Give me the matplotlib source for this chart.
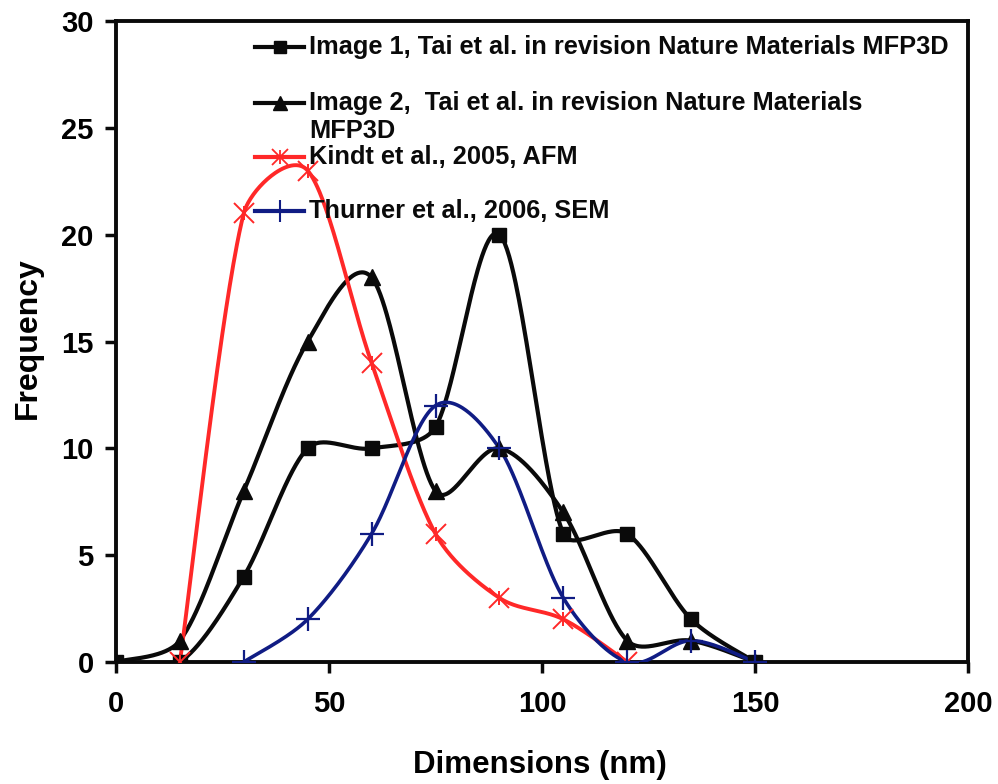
import numpy as np
import matplotlib
matplotlib.use("Agg")
import matplotlib.pyplot as plt

# --- data -------------------------------------------------------------
dims_img1 = [0, 15, 30, 45, 60, 75, 90, 105, 120, 135, 150]
freq_img1 = [0, 0, 4, 10, 10, 11, 20, 6, 6, 2, 0]

dims_img2 = [0, 15, 30, 45, 60, 75, 90, 105, 120, 135, 150]
freq_img2 = [0, 1, 8, 15, 18, 8, 10, 7, 1, 1, 0]

dims_kindt = [15, 30, 45, 60, 75, 90, 105, 120]
freq_kindt = [0, 21, 23, 14, 6, 3, 2, 0]

dims_thurner = [30, 45, 60, 75, 90, 105, 120, 135, 150]
freq_thurner = [0, 2, 6, 12, 10, 3, 0, 1, 0]

labels = [
    "Image 1, Tai et al. in revision Nature Materials MFP3D",
    "Image 2,  Tai et al. in revision Nature Materials",
    "Kindt et al., 2005, AFM",
    "Thurner et al., 2006, SEM",
]
label2_cont = "MFP3D"
x_ticks = [0, 50, 100, 150, 200]
y_ticks = [0, 5, 10, 15, 20, 25, 30]

RED = "#ff2828"
BLUE = "#101c84"
BLACK = "#0a0a0a"
FONT = ["Liberation Sans", "DejaVu Sans"]


def smooth(ax, x, y, n=60):
    """Bezier smoothing through every point, computed in screen space.

    Tangent at each point follows the neighbouring points; the control arm
    is capped by a third of the segment chord so short segments don't
    overshoot.
    """
    to_disp = ax.transData
    pts = to_disp.transform(np.column_stack([x, y]).astype(float))
    P = np.vstack([pts[0], pts, pts[-1]])
    t = np.linspace(0, 1, n)[:, None]
    out = []
    for i in range(1, len(P) - 2):
        p0, p1, p2, p3 = P[i - 1], P[i], P[i + 1], P[i + 2]
        chord = np.linalg.norm(p2 - p1)
        d1 = p2 - p0
        d2 = p3 - p1
        n1 = np.linalg.norm(d1)
        n2 = np.linalg.norm(d2)
        a1 = min(n1 / 6.0, chord / 3.0)
        a2 = min(n2 / 6.0, chord / 3.0)
        c1 = p1 + (d1 / n1 * a1 if n1 > 0 else 0)
        c2 = p2 - (d2 / n2 * a2 if n2 > 0 else 0)
        seg = ((1 - t) ** 3) * p1 + 3 * ((1 - t) ** 2) * t * c1 \
            + 3 * (1 - t) * t ** 2 * c2 + t ** 3 * p2
        out.append(seg if i == 1 else seg[1:])
    s = to_disp.inverted().transform(np.vstack(out))
    return s[:, 0], s[:, 1]


fig = plt.figure(figsize=(9.98, 7.84), dpi=100)
ax = fig.add_axes([0.1162, 0.1556, 0.9700 - 0.1162, 0.9732 - 0.1556])
ax.set_xlim(0, 200)
ax.set_ylim(0, 30)

series = [
    (dims_img1, freq_img1, BLACK, 3.0, dict(marker="s", ms=10)),
    (dims_img2, freq_img2, BLACK, 3.0, dict(marker="^", ms=11)),
    (dims_kindt, freq_kindt, RED, 2.8, None),
    (dims_thurner, freq_thurner, BLUE, 2.6, dict(marker="+", ms=17, mew=1.6)),
]

for x, y, col, lw, mk in series:
    sx, sy = smooth(ax, x, y)
    ax.plot(sx, sy, color=col, lw=lw, solid_capstyle="round",
            solid_joinstyle="round", zorder=3)
    if mk is None:
        ax.plot(x, y, ls="none", marker="x", ms=14, mew=1.4, color=col, zorder=4)
        ax.plot(x, y, ls="none", marker="|", ms=10, mew=1.4, color=col, zorder=4)
    else:
        ax.plot(x, y, ls="none", color=col, mec=col, mfc=col, zorder=4, **mk)

ax.set_xticks(x_ticks)
ax.set_yticks(y_ticks)
ax.set_xticklabels([str(v) for v in x_ticks])
ax.set_yticklabels([str(v) for v in y_ticks])
for lab in ax.get_xticklabels() + ax.get_yticklabels():
    lab.set_fontfamily(FONT)
    lab.set_fontweight("bold")
    lab.set_fontsize(21)
ax.tick_params(axis="both", direction="out", length=8, width=2.5, color=BLACK)
ax.tick_params(axis="x", pad=12)
ax.tick_params(axis="y", pad=8)
for sp in ax.spines.values():
    sp.set_linewidth(2.8)
    sp.set_color(BLACK)

ax.set_xlabel("Dimensions (nm)", fontfamily=FONT, fontweight="bold", fontsize=22.5)
ax.set_ylabel("Frequency", fontfamily=FONT, fontweight="bold", fontsize=23)
ax.xaxis.label.set_va("center")
ax.yaxis.label.set_va("center")
ax.xaxis.set_label_coords(0.498, -0.161)
ax.yaxis.set_label_coords(-0.103, 0.505)

# --- legend keys, drawn in axes fraction ---------------------------------
key_x0, key_x1, txt_x = 0.163, 0.221, 0.2265
key_rows = [0.9594, 0.8721, 0.7878, 0.7036]
row_cont = 0.8284
key_marks = [
    dict(marker="s", ms=9, color=BLACK),
    dict(marker="^", ms=10, color=BLACK),
    None,
    dict(marker="+", ms=16, mew=1.5, color=BLUE),
]
key_cols = [BLACK, BLACK, RED, BLUE]
text_kw = dict(transform=ax.transAxes, ha="left", va="center",
               fontfamily=FONT, fontweight="bold", fontsize=18.3,
               color=BLACK, zorder=6)
for yy, lab, mk, col in zip(key_rows, labels, key_marks, key_cols):
    ax.plot([key_x0, key_x1], [yy, yy], transform=ax.transAxes, color=col,
            lw=3.0, clip_on=False, zorder=5)
    xm = (key_x0 + key_x1) / 2
    if mk is None:
        ax.plot([xm], [yy], transform=ax.transAxes, ls="none", marker="x",
                ms=12, mew=1.3, color=col, clip_on=False, zorder=6)
        ax.plot([xm], [yy], transform=ax.transAxes, ls="none", marker="|",
                ms=10, mew=1.3, color=col, clip_on=False, zorder=6)
    else:
        ax.plot([xm], [yy], transform=ax.transAxes, ls="none", clip_on=False,
                zorder=6, **mk)
    ax.text(txt_x, yy, lab, **text_kw)
ax.text(txt_x, row_cont, label2_cont, **text_kw)

fig.savefig("out.png", dpi=100)
